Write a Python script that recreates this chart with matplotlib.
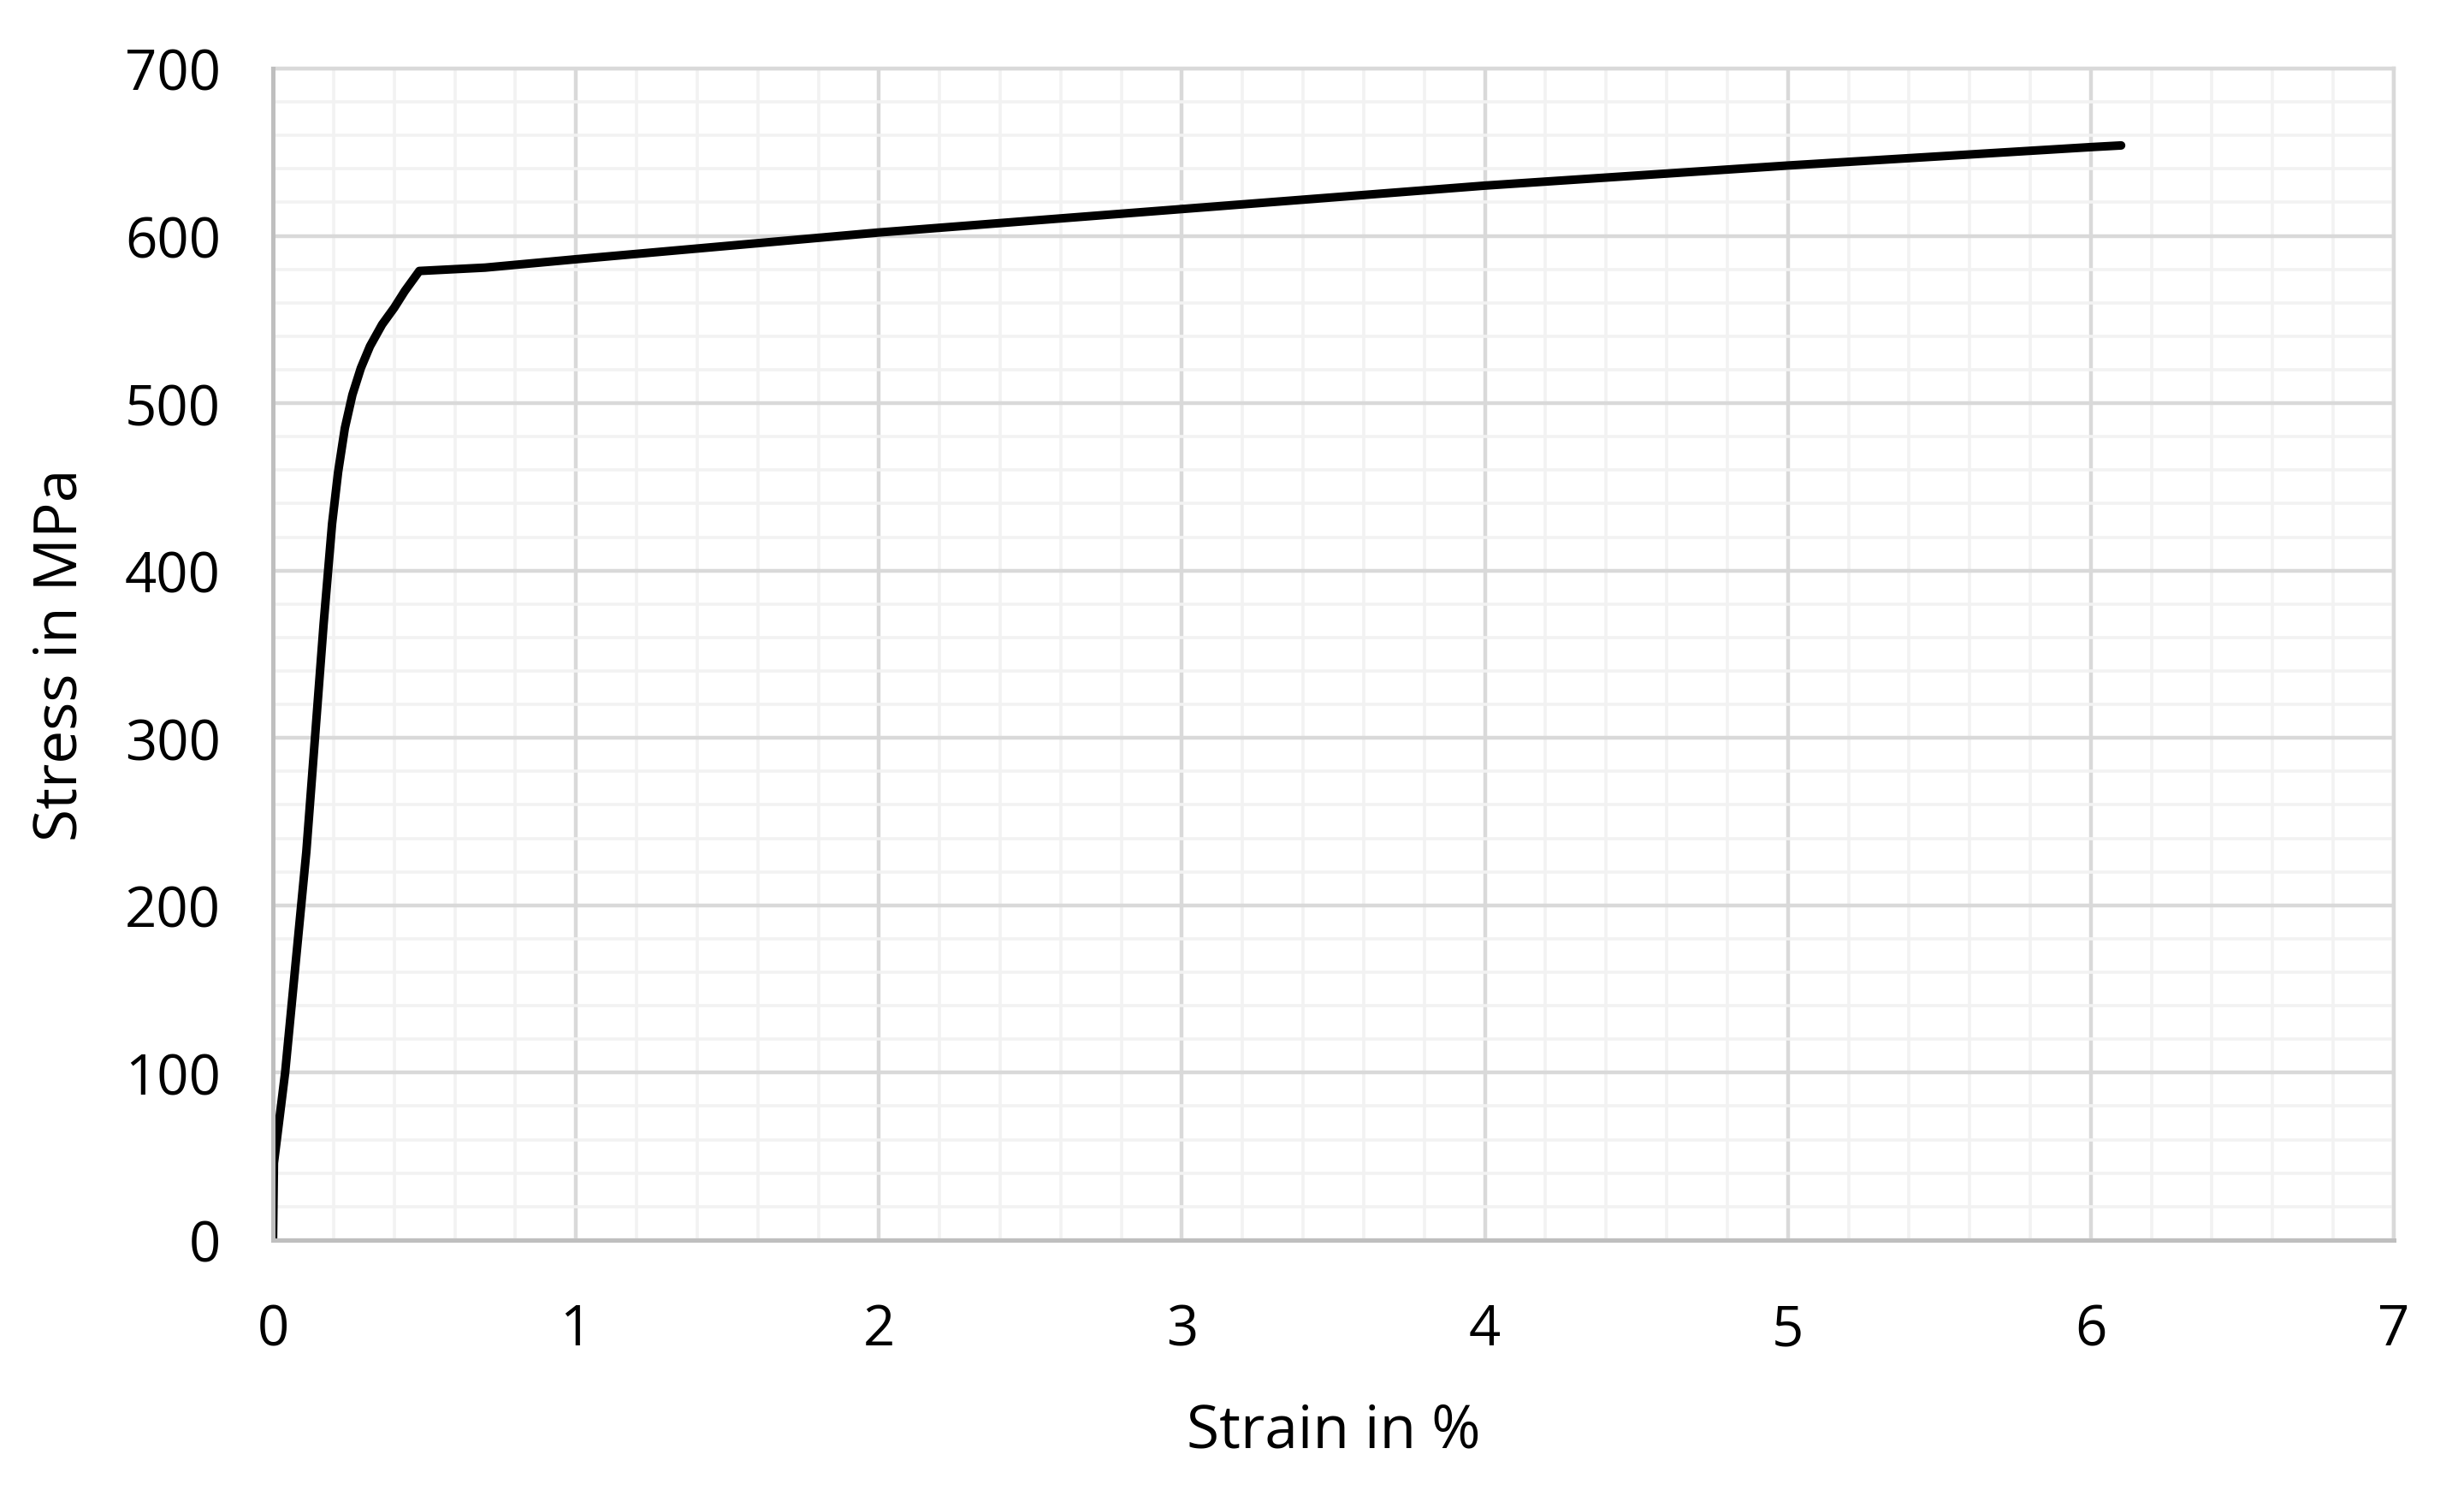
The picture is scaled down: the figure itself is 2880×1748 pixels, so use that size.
import matplotlib.pyplot as plt
from matplotlib.ticker import MultipleLocator

plt.rcParams['font.family'] = ['Open Sans', 'DejaVu Sans']

# 응력-변형률 곡선 데이터
strain = [0, 0.003, 0.04, 0.11, 0.167, 0.195, 0.215, 0.237, 0.262, 0.29, 0.32,
          0.36, 0.40, 0.435, 0.483, 0.70, 1.0, 1.5, 2.0, 3.0, 4.0, 5.0, 6.0, 6.1]
stress = [0, 46, 100, 232, 368, 428, 459, 485, 505, 521, 534,
          547, 557, 567, 579, 581, 586, 594, 602, 616, 630, 642, 653, 654]

x_ticks = [0, 1, 2, 3, 4, 5, 6, 7]
y_ticks = [0, 100, 200, 300, 400, 500, 600, 700]

fig = plt.figure(figsize=(14.4, 8.745), dpi=200)
ax = fig.add_axes([0.1108, 0.171, 0.8607, 0.7827])

ax.plot(strain, stress, color="black", linewidth=3.6, solid_capstyle="round",
        solid_joinstyle="round", zorder=5)

ax.set_xlim(0, 7)
ax.set_ylim(0, 700)
ax.set_xticks(x_ticks)
ax.set_yticks(y_ticks)
ax.xaxis.set_minor_locator(MultipleLocator(0.2))
ax.yaxis.set_minor_locator(MultipleLocator(20))

# 격자
ax.grid(which="minor", color="#F2F2F2", linewidth=1.3, zorder=0)
ax.grid(which="major", color="#D9D9D9", linewidth=1.6, zorder=1)
ax.set_axisbelow(True)

for side in ["top", "right"]:
    ax.spines[side].set_color("#D9D9D9")
    ax.spines[side].set_linewidth(1.6)
for side in ["left", "bottom"]:
    ax.spines[side].set_color("#BFBFBF")
    ax.spines[side].set_linewidth(1.8)
    ax.spines[side].set_zorder(6)

ax.tick_params(which="both", length=0)
ax.tick_params(axis="y", labelsize=23.5, pad=22)
ax.tick_params(axis="x", labelsize=23.5, pad=26)

ax.set_xlabel("Strain in %", fontsize=25, labelpad=18)
ax.set_ylabel("Stress in MPa", fontsize=25, labelpad=14)

fig.savefig("out.png", dpi=200, facecolor="white")
